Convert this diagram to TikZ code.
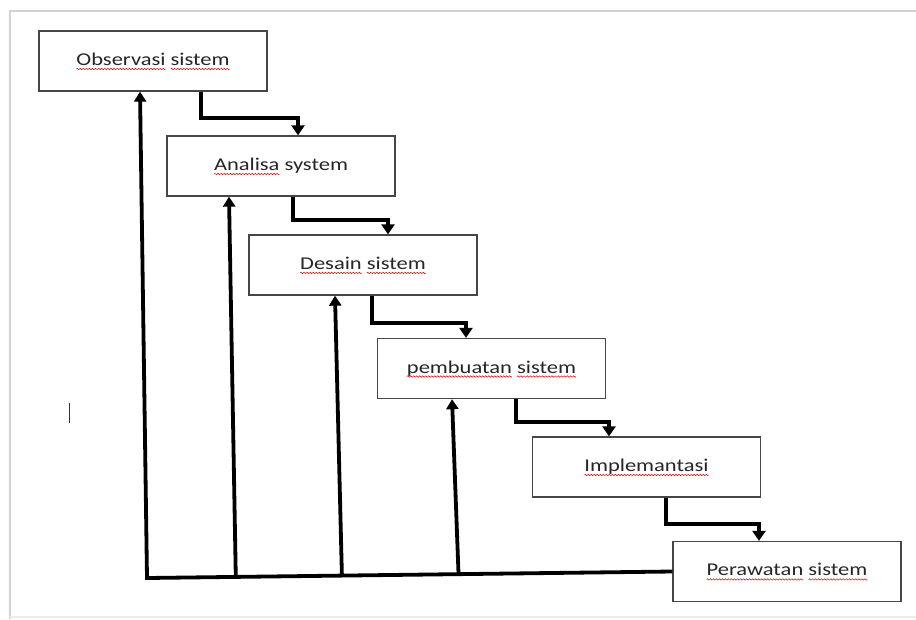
\documentclass[tikz,border=0pt]{standalone}
\usepackage{fontspec}
\setmainfont{Carlito}[FakeStretch=1.25]
\usetikzlibrary{arrows.meta,calc}

% red wavy underline as drawn by a spell checker
\newsavebox\wavebox
\newcommand\spellmark[1]{\leavevmode\setbox0\hbox{#1}%
  \rlap{\lower3.5pt\hbox to \wd0{\xleaders\copy\wavebox\hfil}}\box0\relax}

\tikzset{
  stagebox/.style={draw=gray!55!black, line width=1.3pt, fill=white,
    minimum width=228pt, minimum height=60pt, inner sep=0pt,
    text=black!85, font=\fontsize{18}{21}\selectfont},
  fwd/.style={line width=3.8pt, -{Triangle[width=13pt,length=10pt]}},
  back/.style={line width=3.8pt, -{Triangle[width=12pt,length=10pt]}},
  pageedge/.style={gray!35, line width=1.5pt},
}

\begin{document}
\sbox\wavebox{\begin{pgfpicture}%
  \pgfpathrectangle{\pgfpointorigin}{\pgfpoint{3pt}{0pt}}\pgfusepath{use as bounding box}%
  \pgfsetlinewidth{0.5pt}\pgfsetstrokecolor{red!85!black}%
  \pgfpathmoveto{\pgfpointorigin}%
  \pgfpathlineto{\pgfpoint{0.75pt}{0.7pt}}%
  \pgfpathlineto{\pgfpoint{2.25pt}{-0.7pt}}%
  \pgfpathlineto{\pgfpoint{3pt}{0pt}}%
  \pgfusepath{stroke}%
\end{pgfpicture}}%
\begin{tikzpicture}[x=1pt, y=-1pt]
  \useasboundingbox (0,0) rectangle (916,619);
  \fill[white] (0,0) rectangle (916,619);

  % page edges
  \draw[pageedge] (10,619) -- (10,11) -- (916,11);
  \draw[gray!15, line width=1.2pt] (10,617) -- (916,617);

  % text cursor
  \draw[gray!40!black, line width=0.9pt] (69,403) -- (69,423);

  % stages
  \node[stagebox] (obs) at (153,61)    {\spellmark{Observasi} \spellmark{sistem}};
  \node[stagebox] (ana) at (281,166)   {\spellmark{Analisa} system};
  \node[stagebox] (des) at (363,265)   {\spellmark{Desain} \spellmark{sistem}};
  \node[stagebox] (pem) at (491.5,368.5) {\spellmark{pembuatan} \spellmark{sistem}};
  \node[stagebox] (imp) at (646.5,467) {\spellmark{Implemantasi}};
  \node[stagebox] (per) at (787,571.5) {\spellmark{Perawatan} \spellmark{sistem}};

  % forward steps
  \draw[fwd] ([xshift=48pt]obs.south) -- ++(0,26) -| ([xshift=17pt]ana.north);
  \draw[fwd] ([xshift=12pt]ana.south) -- ++(0,23) -| ([xshift=25pt]des.north);
  \draw[fwd] ([xshift=9pt]des.south) -- ++(0,27) -| ([xshift=-25.5pt]pem.north);
  \draw[fwd] ([xshift=24.5pt]pem.south) -- ++(0,23) -| ([xshift=-37.5pt]imp.north);
  \draw[fwd] ([xshift=19.5pt]imp.south) -- ++(0,26) -| ([xshift=-28pt]per.north);

  % feedback lines
  \coordinate (rb) at (147,578);
  \coordinate (f1) at ($(rb)!0.169!(per.west)$);
  \coordinate (f2) at ($(rb)!0.371!(per.west)$);
  \coordinate (f3) at ($(rb)!0.593!(per.west)$);
  \draw[back] (per.west) -- (rb) -- ([xshift=-13pt]obs.south);
  \draw[back] (f1) -- ([xshift=-52pt]ana.south);
  \draw[back] (f2) -- ([xshift=-28pt]des.south);
  \draw[back] (f3) -- ([xshift=-39.5pt]pem.south);
\end{tikzpicture}
\end{document}
